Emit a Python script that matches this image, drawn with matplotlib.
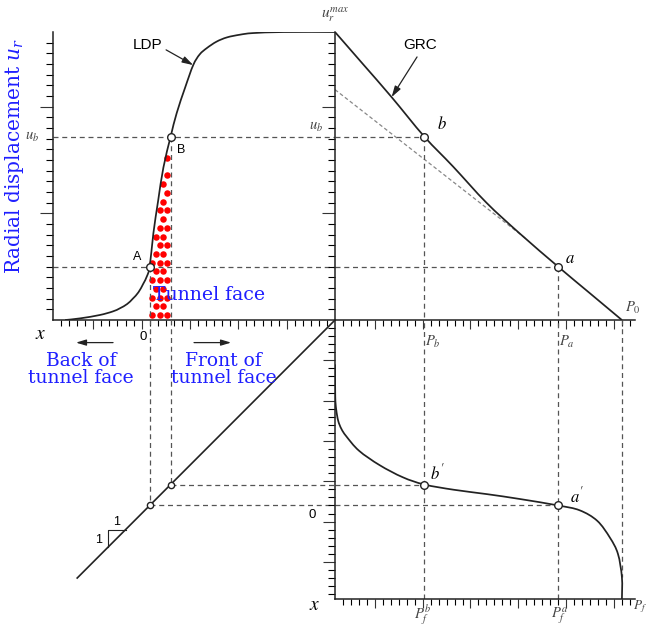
import numpy as np
import matplotlib.pyplot as plt
from matplotlib.ticker import FixedLocator
from matplotlib.path import Path
from matplotlib.patches import PathPatch

plt.rcParams['mathtext.fontset'] = 'stix'
plt.rcParams['font.family'] = ['Liberation Sans', 'DejaVu Sans']

# longitudinal deformation profile (distance from face, radial displacement)
ldp_x = [-10.5, -8.6, -6.2, -4.6, -3.7, -2.8, -2.1, -1.4, -0.8, -0.35, 0.0, 0.45,
         1.05, 1.7, 2.6, 3.35, 4.4, 5.4, 6.2, 7.1, 8.3, 9.6, 11.2, 12.8, 16.6, 23.0]
ldp_u = [0.0, 0.16, 0.47, 0.8, 1.1, 1.5, 2.0, 2.6, 3.4, 4.1, 5.0, 8.1,
         11.2, 14.3, 17.2, 19.4, 21.8, 23.9, 24.9, 25.5, 26.1, 26.5, 26.75, 26.9, 27.0, 27.0]

# ground reaction curve (support pressure, radial displacement)
grc_p = [0.0, 3.5, 7.1, 11.2, 14.8, 19.0, 23.2, 28.0, 32.0, 36.0]
grc_u = [27.0, 24.0, 20.9, 17.2, 14.4, 11.0, 8.1, 5.0, 2.5, 0.0]

# elastic tangent of the GRC
tan_p = [0.0, 24.0]
tan_u = [21.6, 7.6]

# fictitious support pressure along the tunnel (pressure, distance)
pf_p = [0.0, 0.03, 0.15, 0.4, 0.8, 1.4, 3.0, 5.6, 8.5, 11.2, 14.9, 19.1, 23.2, 28.0,
        30.7, 32.9, 34.5, 35.5, 36.0, 36.0]
pf_x = [17.5, 13.5, 11.9, 10.5, 9.5, 8.6, 6.8, 5.0, 3.5, 2.6, 1.95, 1.4, 0.8, 0.0,
        -0.6, -1.9, -4.0, -6.0, -8.9, -11.6]

u_max = 27.0
x_a, x_b = 0.0, 2.6
u_a, u_b = 5.0, 17.2
p_a, p_b = 28.0, 11.2
p_0 = 36.0

x_lim = (-12.0, 23.0)
xv_lim = (-11.6, 23.0)
p_lim = (0.0, 37.64)

blue = '#1f1fff'
ink = '#222222'
dash = dict(color='#555555', lw=0.9, ls=(0, (4, 3)))
label_grey = '#444444'
arrow_kw = dict(arrowstyle='-|>,head_length=0.6,head_width=0.18', color=ink, lw=0.9)


def smooth_curve(ax, xs, ys, **kw):
    """Draw a Catmull-Rom spline through the points as cubic Bezier segments."""
    pts = np.column_stack([xs, ys]).astype(float)
    n = len(pts)
    verts, codes = [pts[0]], [Path.MOVETO]
    for i in range(n - 1):
        p0, p1 = pts[max(i - 1, 0)], pts[i]
        p2, p3 = pts[i + 1], pts[min(i + 2, n - 1)]
        verts += [p1 + (p2 - p0) / 6, p2 - (p3 - p1) / 6, p2]
        codes += [Path.CURVE4] * 3
    ax.add_patch(PathPatch(Path(verts, codes), fill=False, **kw))


def ruler(axis, minor_pos, major_pos, minor_len, major_len):
    axis.set_minor_locator(FixedLocator(minor_pos))
    axis.set_major_locator(FixedLocator(major_pos))
    axis.set_tick_params(which='minor', length=minor_len, width=0.8, direction='out')
    axis.set_tick_params(which='major', length=major_len, width=0.8, direction='out')


fig = plt.figure(figsize=(6.49, 6.28), dpi=100)
ax1 = fig.add_axes([0.0817, 0.4904, 0.4345, 0.4586])
ax2 = fig.add_axes([0.5162, 0.4904, 0.4622, 0.4586])
ax3 = fig.add_axes([0.0817, 0.0462, 0.4345, 0.4442])
ax4 = fig.add_axes([0.5162, 0.0462, 0.4622, 0.4442])

for ax in (ax1, ax2, ax3, ax4):
    ax.set_facecolor('none')
    for s in ('top', 'right'):
        ax.spines[s].set_visible(False)
    for s in ('left', 'bottom'):
        ax.spines[s].set_linewidth(1.1)
        ax.spines[s].set_color(ink)
    ax.tick_params(labelbottom=False, labelleft=False, colors='#333333')

ax1.set_xlim(*x_lim)
ax1.set_ylim(0, u_max)
ax2.set_xlim(*p_lim)
ax2.set_ylim(0, u_max)
ax3.set_xlim(*x_lim)
ax3.set_ylim(*xv_lim)
ax4.set_xlim(*p_lim)
ax4.set_ylim(*xv_lim)
ax3.axis('off')

u_ticks = list(range(1, 27))
p_ticks = list(range(1, 38))
ruler(ax1.yaxis, u_ticks, [10, 20], 5, 9.5)
ruler(ax2.yaxis, u_ticks, [10, 20], 5, 9.5)
ruler(ax1.xaxis, list(range(-11, 23)), [-7, -1, 5, 11, 17], 4.3, 6.5)
ruler(ax2.xaxis, p_ticks, [5, 11, 17, 23, 29, 35], 4.3, 6.5)
ruler(ax4.xaxis, p_ticks, [5, 11, 17, 23, 29, 35], 4.3, 6.5)
ruler(ax4.yaxis, list(range(-11, 23)), [-7, -2, 3, 8, 13, 18], 5, 8.5)

# --- LDP panel ---
smooth_curve(ax1, ldp_x, ldp_u, color=ink, lw=1.25, zorder=3)

# red dotted fill marking the zone between A and B
dot_x, dot_y = [], []
for i, uu in enumerate(np.arange(0.45, 15.8, 0.82)):
    for xx in np.arange(0.32 + (0.45 if i % 2 else 0.0), 2.55, 0.92):
        if uu < np.interp(xx, ldp_x, ldp_u) - 0.3:
            dot_x.append(xx)
            dot_y.append(uu)
ax1.scatter(dot_x, dot_y, s=22, color='#ff0000', linewidths=0, zorder=2)

ax1.plot(x_lim, [u_b, u_b], **dash)
ax1.plot(x_lim, [u_a, u_a], **dash)
ax1.plot([x_a, x_a], [u_a, 0], **dash)
ax1.plot([x_b, x_b], [u_b, 0], **dash)
ax1.plot([x_a, x_b], [u_a, u_b], 'o', ms=5.5, mfc='white', mec=ink, mew=1.0, zorder=4)

ax1.text(-1.55, 5.9, 'A', fontsize=9, ha='center', va='center')
ax1.text(3.9, 15.9, 'B', fontsize=9, ha='center', va='center')
ax1.text(0.35, 2.35, 'Tunnel face', fontsize=13.6, color=blue, family='DejaVu Serif',
         ha='left', va='center', zorder=5)
ax1.text(-14.6, u_b, r'$u_b$', fontsize=10.5, color=label_grey, ha='center', va='center')
ax1.text(-13.6, -1.4, r'$x$', fontsize=14, ha='center', va='center')
ax1.text(-0.8, -1.6, '0', fontsize=9.5, ha='center', va='center')
ax1.annotate('LDP', xy=(5.4, 23.9), xytext=(-0.3, 25.8), fontsize=11, ha='center', va='center',
             arrowprops=dict(relpos=(1.0, 0.3), shrinkA=1, shrinkB=0, **arrow_kw))
fig.text(0.023, 0.752, r'Radial displacement $u_r$', rotation=90, fontsize=14.5,
         color=blue, family='DejaVu Serif', math_fontfamily='dejavuserif',
         ha='center', va='center')

# --- GRC panel ---
smooth_curve(ax2, grc_p, grc_u, color=ink, lw=1.25, zorder=3)
ax2.plot(tan_p, tan_u, color='#888888', lw=0.9, ls=(0, (3, 2)))
ax2.plot([0, p_b], [u_b, u_b], **dash)
ax2.plot([0, p_a], [u_a, u_a], **dash)
ax2.plot([p_b, p_b], [u_b, 0], **dash)
ax2.plot([p_a, p_a], [u_a, 0], **dash)
ax2.plot([p_b, p_a], [u_b, u_a], 'o', ms=5.5, mfc='white', mec=ink, mew=1.0, zorder=4)

ax2.text(0, 28.6, r'$u_r^{max}$', fontsize=11, color=label_grey, ha='center', va='center')
ax2.text(-2.4, 18.1, r'$u_b$', fontsize=10.5, color=label_grey, ha='center', va='center')
ax2.text(13.4, 18.4, r'$b$', fontsize=12, ha='center', va='center')
ax2.text(29.5, 5.8, r'$a$', fontsize=12, ha='center', va='center')
ax2.text(12.3, -2.1, r'$P_b$', fontsize=10.5, color=label_grey, ha='center', va='center')
ax2.text(29.1, -2.1, r'$P_a$', fontsize=10.5, color=label_grey, ha='center', va='center')
ax2.text(37.4, 1.1, r'$P_0$', fontsize=10.5, color=label_grey, ha='center', va='center')
ax2.annotate('GRC', xy=(7.1, 20.9), xytext=(10.7, 25.8), fontsize=11, ha='center', va='center',
             arrowprops=dict(relpos=(0.5, 0.0), shrinkA=2, shrinkB=0, **arrow_kw))

# --- 1:1 transfer panel ---
ax3.plot([-9.0, 23.0], [-9.0, 23.0], color=ink, lw=1.2)
ax3.plot([x_a, x_a], [xv_lim[1], x_a], **dash)
ax3.plot([x_b, x_b], [xv_lim[1], x_b], **dash)
ax3.plot([x_a, x_lim[1]], [x_a, x_a], **dash)
ax3.plot([x_b, x_lim[1]], [x_b, x_b], **dash)
ax3.plot([x_a, x_b], [x_a, x_b], 'o', ms=4.5, mfc='white', mec=ink, mew=1.0, zorder=4)
ax3.plot([-3.0, -5.2, -5.2], [-3.0, -3.0, -5.2], color=ink, lw=0.8)
ax3.text(-4.1, -2.0, '1', fontsize=9, ha='center', va='center')
ax3.text(-6.3, -4.3, '1', fontsize=9, ha='center', va='center')

ax3.annotate('', xy=(-9.15, 20.2), xytext=(-4.55, 20.2),
             arrowprops=dict(shrinkA=0, shrinkB=0, **arrow_kw))
ax3.annotate('', xy=(10.1, 20.2), xytext=(5.5, 20.2),
             arrowprops=dict(shrinkA=0, shrinkB=0, **arrow_kw))
ax3.text(-8.5, 16.9, 'Back of\ntunnel face', fontsize=13.5, color=blue, family='DejaVu Serif',
         ha='center', va='center', multialignment='center', linespacing=0.9)
ax3.text(9.2, 16.9, 'Front of\ntunnel face', fontsize=13.5, color=blue, family='DejaVu Serif',
         ha='center', va='center', multialignment='center', linespacing=0.9)

# --- support pressure panel ---
smooth_curve(ax4, pf_p, pf_x, color=ink, lw=1.25, zorder=3)
ax4.plot([p_b, p_b], list(xv_lim), **dash)
ax4.plot([p_a, p_a], list(xv_lim), **dash)
ax4.plot([p_0, p_0], [xv_lim[1], -8.9], **dash)
ax4.plot([0, p_b], [x_b, x_b], **dash)
ax4.plot([0, p_a], [x_a, x_a], **dash)
ax4.plot([p_b, p_a], [x_b, x_a], 'o', ms=5.5, mfc='white', mec=ink, mew=1.0, zorder=4)

ax4.text(12.8, 4.1, r"$b'$", fontsize=12, ha='center', va='center')
ax4.text(30.4, 1.25, r"$a'$", fontsize=12, ha='center', va='center')
ax4.text(-2.9, -1.2, '0', fontsize=9.5, ha='center', va='center')
ax4.text(-2.5, -12.4, r'$x$', fontsize=14, ha='center', va='center')
ax4.text(11.0, -13.6, r'$P_f^b$', fontsize=10.5, color=label_grey, ha='center', va='center')
ax4.text(28.2, -13.6, r'$P_f^a$', fontsize=10.5, color=label_grey, ha='center', va='center')
ax4.text(39.15, -12.5, r'$P_f$', fontsize=9.5, color=label_grey, ha='right', va='center')

fig.savefig('out.png', dpi=100)
